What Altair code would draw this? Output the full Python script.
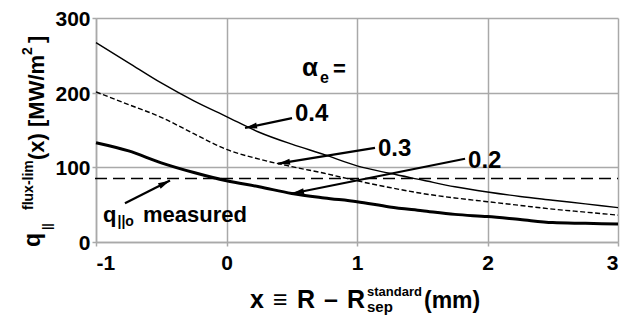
import math
import altair as alt
import pandas as pd

# ---------------- data ----------------
x_vals = [-1, -0.75, -0.5, -0.25, 0, 0.25, 0.5, 0.75, 1, 1.25, 1.5, 1.75, 2, 2.25, 2.5, 2.75, 3]
q_a04 = [267, 240, 213, 189, 168, 147, 131, 117, 102, 92, 83, 74, 67, 61, 56, 51, 46]
q_a03 = [201, 184, 167, 145, 124, 111, 101, 92, 82, 73, 65, 59, 54, 49, 44, 40, 36]
q_a02 = [133, 122, 106, 93, 82, 74, 65, 59, 54, 47, 42, 37, 34, 30, 26, 25, 24]
q_measured = 85

x_ticks = [-1, 0, 1, 2, 3]
y_ticks = [0, 100, 200, 300]

# annotation labels (data coordinates)
label_text = ["0.4", "0.3", "0.2"]
label_x = [0.525, 1.161, 1.851]
label_y = [162, 115.5, 99.6]

# arrows: tail -> tip (data coordinates)
arrow_x1 = [0.502, 1.138, 1.828, -0.778]
arrow_y1 = [165.9, 126.1, 111.5, 51.8]
arrow_x2 = [0.142, 0.395, 0.502, -0.433]
arrow_y2 = [152.7, 104.9, 65.0, 82.3]

FONT = "Liberation Sans"
W, H = 522, 224
TOP = 10
XMIN, XMAX, YMIN, YMAX = -1, 3, 0, 300
px_x = W / (XMAX - XMIN)
px_y = H / (YMAX - YMIN)

curves = pd.DataFrame({"x": x_vals, "a04": q_a04, "a03": q_a03, "a02": q_a02})

xs = alt.Scale(domain=[XMIN, XMAX], nice=False, zero=False)
ys = alt.Scale(domain=[YMIN, YMAX], nice=False)
X = alt.X("x:Q", scale=xs,
          axis=alt.Axis(values=x_ticks, title=None, grid=True, format="d",
                        labelExpr="replace(datum.label, '\u2212', '-')"))
Y_AX = alt.Axis(values=y_ticks, title=None, grid=True)

base = alt.Chart(curves)

l04 = base.mark_line(color="black", strokeWidth=1.4, interpolate="monotone").encode(
    x=X, y=alt.Y("a04:Q", scale=ys, axis=Y_AX))
l03 = base.mark_line(color="black", strokeWidth=1.4, strokeDash=[5, 2.5],
                     interpolate="monotone").encode(
    x=X, y=alt.Y("a03:Q", scale=ys, axis=Y_AX))
l02 = base.mark_line(color="black", strokeWidth=3, interpolate="monotone").encode(
    x=X, y=alt.Y("a02:Q", scale=ys, axis=Y_AX))

hline = alt.Chart(pd.DataFrame({"y": [q_measured]})).mark_rule(
    color="black", strokeWidth=1.5, strokeDash=[12, 6]).encode(
    y=alt.Y("y:Q", scale=ys, axis=Y_AX),
    x=alt.value(-1), x2=alt.value(W))

# arrows
ang = []
for x1, y1, x2, y2 in zip(arrow_x1, arrow_y1, arrow_x2, arrow_y2):
    dx = (x2 - x1) * px_x
    dy = -(y2 - y1) * px_y
    a = math.degrees(math.atan2(dx, -dy))
    ang.append(a % 360)
arrows = pd.DataFrame({"x1": arrow_x1, "y1": arrow_y1, "x2": arrow_x2,
                       "y2": arrow_y2, "ang": ang})
arrow_lines = alt.Chart(arrows).mark_rule(color="black", strokeWidth=2.2).encode(
    x=alt.X("x1:Q", scale=xs), y=alt.Y("y1:Q", scale=ys),
    x2="x2:Q", y2="y2:Q")
arrow_heads = alt.Chart(arrows).mark_point(
    shape="M0,0L-0.6,2.4L0.6,2.4Z", filled=True, color="black",
    size=100, opacity=1, strokeWidth=0).encode(
    x=alt.X("x2:Q", scale=xs), y=alt.Y("y2:Q", scale=ys),
    angle=alt.Angle("ang:Q", scale=None))

labels = alt.Chart(pd.DataFrame({"x": label_x, "y": label_y, "t": label_text})).mark_text(
    font=FONT, fontWeight="bold", fontSize=24, align="left", baseline="alphabetic",
    color="black").encode(x=alt.X("x:Q", scale=xs), y=alt.Y("y:Q", scale=ys), text="t:N")

one = pd.DataFrame({"d": [0]})


def txt(s, x, y, size, angle=0, align="left"):
    kw = dict(font=FONT, fontWeight="bold", fontSize=size, align=align,
              baseline="alphabetic", color="black", text=s)
    if angle:
        kw["angle"] = angle
    return alt.Chart(one).mark_text(**kw).encode(x=alt.value(x), y=alt.value(y))


def dtxt(s, x, y, size):
    return alt.Chart(pd.DataFrame({"x": [x], "y": [y]})).mark_text(
        font=FONT, fontWeight="bold", fontSize=size, align="left",
        baseline="alphabetic", color="black", text=s).encode(
        x=alt.X("x:Q", scale=xs), y=alt.Y("y:Q", scale=ys))


annots = [
    dtxt("α", 0.579, 221.7, 26),
    dtxt("e", 0.716, 212.4, 16),
    dtxt("=", 0.816, 221.7, 22),
    dtxt("q", -0.946, 26.5, 22),
    dtxt("||o", -0.835, 21, 14),
    dtxt("measured", -0.64, 26.5, 22),
]

# page coords -> chart coords offset (plot origin at page (96, 18))
OY = 8 + TOP
OX = 96
titles = [
    txt("q", -56, 247 - OY, 23, angle=270),
    txt("||", -45, 230 - OY, 12, angle=270),
    txt("flux-lim", -63, 210 - OY, 14, angle=270),
    txt("(x) [MW/m", -52, 160 - OY, 22, angle=270),
    txt("2", -64, 55 - OY, 14, angle=270),
    txt("]", -52, 43 - OY, 22, angle=270),
    txt("x", 250 - OX, 308 - OY, 25),
    txt("≡", 273 - OX, 308 - OY, 25),
    txt("R", 297 - OX, 308 - OY, 25),
    txt("–", 324 - OX, 308 - OY, 25),
    txt("R", 347 - OX, 308 - OY, 25),
    txt("standard", 367 - OX, 296 - OY, 13),
    txt("sep", 367 - OX, 312 - OY, 15),
    txt("(mm)", 424 - OX, 308 - OY, 23),
]

chart = alt.layer(
    l04, l03, l02, hline, arrow_lines, arrow_heads, labels, *annots, *titles
).properties(
    width=W, height=H,
    autosize="none",
    padding={"left": 88, "top": TOP, "right": 5, "bottom": 75},
).configure_view(strokeWidth=0).configure_axis(
    gridColor="#a9a9a9", gridWidth=1.5, gridOpacity=1,
    domainColor="#a9a9a9", domainWidth=1.5,
    tickColor="#a9a9a9", tickWidth=1.5, tickSize=4,
    labelFont=FONT, labelFontWeight="bold", labelFontSize=21,
    labelColor="black", labelPadding=2,
).configure_axisY(labelBaseline="alphabetic", labelOffset=7.5).configure_axisX(
    labelPadding=6)

chart.save("out.html", embed_options={"renderer": "svg", "actions": False})
